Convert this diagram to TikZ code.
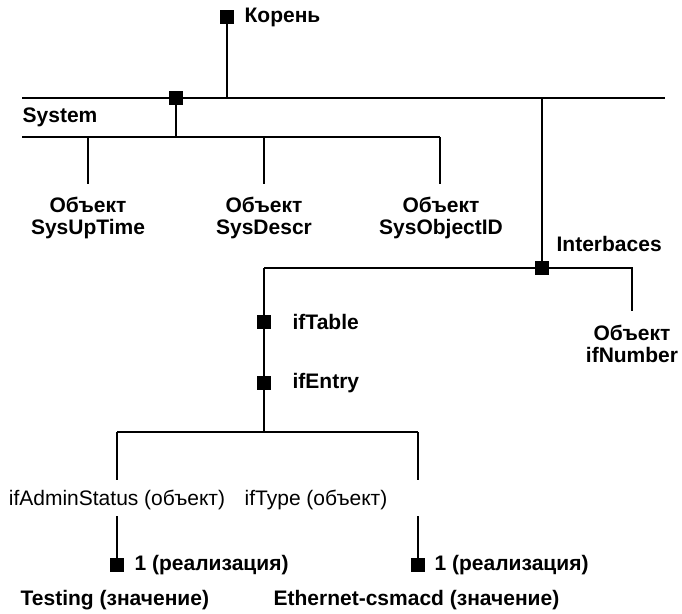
\documentclass[tikz,border=0pt]{standalone}
\usepackage{fontspec}
\setmainfont{Liberation Sans}
\begin{document}
\begin{tikzpicture}[x=1pt,y=-1pt,
  line width=1.3pt,
  sq/.style={fill=black,draw=none,minimum size=13.5pt,inner sep=0pt,outer sep=0pt},
  lbl/.style={font=\bfseries\fontsize{21}{21.5}\selectfont,inner sep=0pt},
  plain/.style={font=\fontsize{21}{21.5}\selectfont,inner sep=0pt},
  obj/.style={lbl,align=center}]
\useasboundingbox (0,0) rectangle (682,613);

% root and the main bus
\node[sq] (root) at (227,17) {};
\node[lbl,anchor=west] (rootlbl) at (244,17) {Корень};
\coordinate (busL) at (22,98);
\coordinate (busR) at (665,98);
\coordinate (rootj) at (227,98);
\draw (busL) -- (busR);
\draw (root) -- (rootj);

% System branch
\node[sq] (sys) at (176,98) {};
\node[lbl,anchor=west] (syslbl) at (22,117) {System};
\coordinate (sysj) at (176,137);
\coordinate (sysL) at (22,137);
\coordinate (sysR) at (440,137);
\draw (sys) -- (sysj);
\draw (sysL) -- (sysR);
\coordinate (o1top) at (88,137);
\coordinate (o2top) at (264,137);
\coordinate (o1end) at (88,184);
\coordinate (o2end) at (264,184);
\coordinate (o3end) at (440,184);
\draw (o1top) -- (o1end);
\draw (o2top) -- (o2end);
\draw (sysR) -- (o3end);
\node[obj] (uptime) at (88,218) {Объект\\SysUpTime};
\node[obj] (descr) at (264,218) {Объект\\SysDescr};
\node[obj] (objid) at (441,218) {Объект\\SysObjectID};

% Interbaces branch
\coordinate (ifj) at (542,98);
\node[sq] (ifs) at (542,268) {};
\node[lbl,anchor=west] (iflbl) at (556,244) {Interbaces};
\draw (ifj) -- (ifs);
\coordinate (ifL) at (264,268);
\coordinate (ifR) at (632,268);
\coordinate (ifnend) at (632,311);
\draw (ifL) -- (ifR) -- (ifnend);
\node[obj] (ifnum) at (632,344) {Объект\\ifNumber};

% ifTable / ifEntry chain
\node[sq] (tbl) at (264,322) {};
\node[lbl,anchor=west] (tbllbl) at (292,322) {ifTable};
\node[sq] (ent) at (264,383) {};
\node[lbl,anchor=west] (entlbl) at (292,383) {ifEntry};
\coordinate (entj) at (264,432);
\draw (ifL) -- (entj);
\coordinate (entL) at (117,432);
\coordinate (entR) at (418,432);
\draw (entL) -- (entR);
\coordinate (admtop) at (117,480);
\coordinate (typtop) at (418,480);
\draw (entL) -- (admtop);
\draw (entR) -- (typtop);

% object leaves
\node[plain] (adm) at (117,500) {ifAdminStatus (объект)};
\node[plain] (typ) at (316,500) {ifType (объект)};
\coordinate (admbot) at (117,516);
\coordinate (typbot) at (418,516);
\node[sq] (adms) at (117,565) {};
\node[sq] (typs) at (418,565) {};
\draw (admbot) -- (adms);
\draw (typbot) -- (typs);
\node[lbl,anchor=west] (admi) at (134,565) {1 (реализация)};
\node[lbl,anchor=west] (typi) at (434,565) {1 (реализация)};
\node[lbl,anchor=west] (admv) at (20,600) {Testing (значение)};
\node[lbl,anchor=west] (typv) at (273,600) {Ethernet-csmacd (значение)};
\end{tikzpicture}
\end{document}
